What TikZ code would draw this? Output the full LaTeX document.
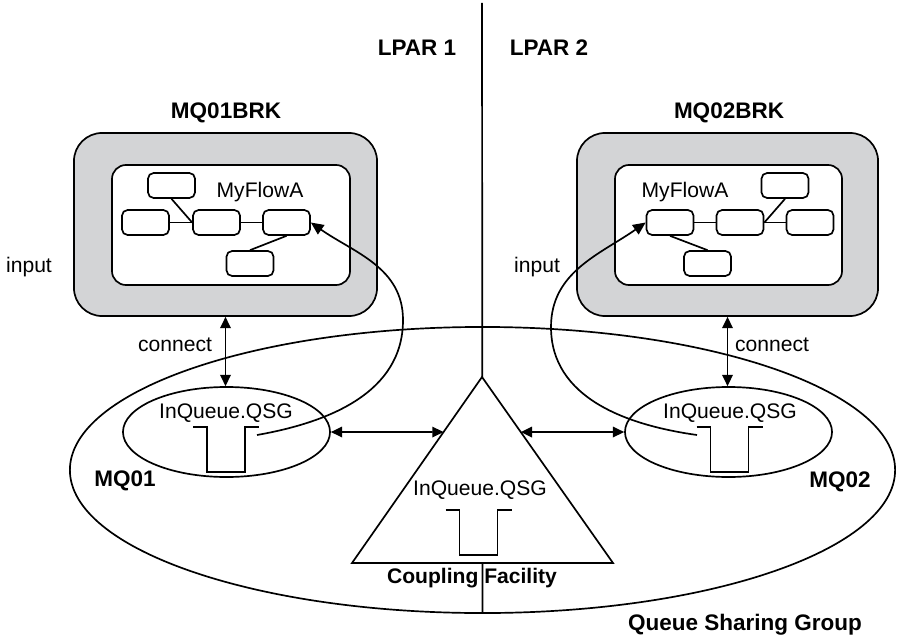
\documentclass[tikz,border=0pt]{standalone}
\usepackage{fontspec}
\setmainfont{Liberation Sans}
\usetikzlibrary{shapes.geometric, arrows.meta, positioning, calc}
\definecolor{brkgray}{RGB}{211,212,214}

\begin{document}
\begin{tikzpicture}[
    x=0.025cm, y=0.025cm,
    line width=1.2pt,
    brk/.style={rectangle, draw, fill=brkgray, rounded corners=20pt, minimum width=7.575cm, minimum height=4.575cm},
    flow/.style={rectangle, draw, fill=white, rounded corners=10pt, minimum width=5.95cm, minimum height=3cm},
    fnode/.style={rectangle, draw, fill=white, rounded corners=4pt, minimum width=1.175cm, minimum height=0.625cm},
    qmgr/.style={ellipse, draw, minimum width=5.175cm, minimum height=2.25cm},
    txt/.style={font=\fontsize{15}{18}\selectfont, inner sep=0pt},
    btxt/.style={font=\fontsize{16}{19}\selectfont\bfseries, inner sep=0pt},
    arrow/.style={-{Triangle[length=9pt, width=8pt]}},
    darrow/.style={{Triangle[length=8pt, width=7.5pt]}-{Triangle[length=8pt, width=7.5pt]}},
    qsym/.pic={\draw (-33,0) -- (-19,0) -- (-19,-45) -- (19,-45) -- (19,0) -- (33,0);}
]
\useasboundingbox (0,0) rectangle (898,640);

% Queue sharing group
\node[ellipse, draw, minimum width=20.625cm, minimum height=7.15cm] (qsg) at (482.5,170) {};
\node[btxt] (qsgname) at (745,15) {Queue Sharing Group};

% LPAR border
\coordinate (top) at (482,637);
\draw (top) -- (qsg.south);
\node[btxt] (lpar1) at (417,592) {LPAR 1};
\node[btxt] (lpar2) at (549,592) {LPAR 2};

% Coupling facility
\coordinate (cfA) at (482,263);
\coordinate (cfL) at (352,77);
\coordinate (cfR) at (613,77);
\draw[fill=white] (cfA) -- (cfL) -- (cfR) -- cycle;
\coordinate (cfw) at ($(cfA)!0.296!(cfL)$);
\coordinate (cfe) at ($(cfA)!0.296!(cfR)$);
\node[txt] (cfq) at (480,150) {InQueue.QSG};
\pic at (478.5,130) {qsym};
\node[btxt, font=\fontsize{15}{18}\selectfont\bfseries] (cfname) at (472,62) {Coupling Facility};

% Brokers
\node[btxt] (brkLname) at (226,527) {MQ01BRK};
\node[brk] (brkL) at (225.5,415.5) {};
\node[flow] (flowL) at (231,415) {};
\node[txt] (myflowL) at (260,448) {MyFlowA};
\node[fnode] (fA) at (171.5,454.5) {};
\node[fnode] (fB) at (145.5,417.5) {};
\node[fnode] (fC) at (216.5,417.5) {};
\node[fnode] (fD) at (286.5,417.5) {};
\node[fnode] (fE) at (250,376.5) {};
\draw (fB) -- (fC);
\draw (fC) -- (fD);
\draw (fA.south) -- (fC.west);
\draw (fD.south) -- (fE.north);

\node[btxt] (brkRname) at (729,527) {MQ02BRK};
\node[brk, minimum width=7.525cm] (brkR) at (727.5,415.5) {};
\node[flow, minimum width=5.675cm] (flowR) at (728.5,415) {};
\node[txt] (myflowR) at (685,448) {MyFlowA};
\node[fnode] (fA2) at (785,454.5) {};
\node[fnode] (fB2) at (670,417.5) {};
\node[fnode] (fC2) at (740,417.5) {};
\node[fnode] (fD2) at (810,417.5) {};
\node[fnode] (fE2) at (707.5,376.5) {};
\draw (fB2) -- (fC2);
\draw (fC2) -- (fD2);
\draw (fA2.south) -- (fC2.east);
\draw (fB2.south) -- (fE2.north);

% Queue managers
\node[qmgr] (qmL) at (226.5,208) {};
\node[txt] (qL) at (226,227) {InQueue.QSG};
\pic at (226,213) {qsym};
\node[btxt] (mq01) at (125,159) {MQ01};

\node[qmgr] (qmR) at (728.5,208) {};
\node[txt] (qR) at (730,227) {InQueue.QSG};
\pic at (729.5,213) {qsym};
\node[btxt] (mq02) at (840,158) {MQ02};

% connect
\draw[darrow] (brkL.south) -- (brkL.south |- qmL.north);
\node[txt] (conL) at (175,295) {connect};
\draw[darrow] (brkR.south) -- (brkR.south |- qmR.north);
\node[txt] (conR) at (772,295) {connect};

% shared queue
\draw[darrow] (qmL.east) -- (cfw);
\draw[darrow] (cfe) -- (qmR.west);

% input
\coordinate (inL) at (257,205);
\coordinate (inR) at (697,205);
\draw[arrow] (inL) to[out=10, in=-90] (403,320) to[out=90, in=-35] (fD.east);
\draw[arrow] (inR) to[out=172, in=-90] (551,313) to[out=90, in=-145] (fB2.west);
\node[txt] (inputL) at (29,373) {input};
\node[txt] (inputR) at (537,373) {input};

\end{tikzpicture}
\end{document}
